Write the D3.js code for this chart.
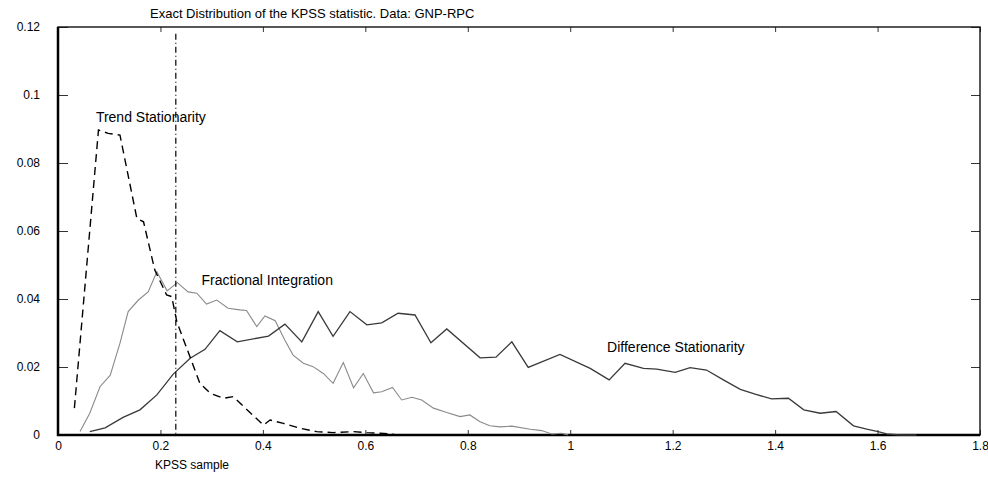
<!DOCTYPE html>
<html>
<head>
<meta charset="utf-8">
<script src="https://cdn.jsdelivr.net/npm/d3@7"></script>
<style>
  body { margin: 0; background: #fff; }
  svg text { font-family: "Liberation Sans", Arial, sans-serif; font-size: 12px; fill: #000; }
  svg text.lbl { font-size: 14px; }
  svg text.title { font-size: 13px; }
</style>
</head>
<body>
<svg id="viz" width="988" height="477"></svg>
<script>
// --- Data ---
const trendX = [0.032, 0.079, 0.098, 0.121, 0.154, 0.167, 0.189, 0.212, 0.222, 0.232, 0.277, 0.297, 0.323, 0.342,
    0.401, 0.414, 0.44, 0.472, 0.505, 0.537, 0.577, 0.603, 0.629, 0.655];
const trendY = [0.0079, 0.0897, 0.0887, 0.0882, 0.0637, 0.0627, 0.0485, 0.0412, 0.0407, 0.0333, 0.0152, 0.0123, 0.0108, 0.0113,
    0.0029, 0.0044, 0.0034, 0.002, 0.001, 0.0007, 0.001, 0.0007, 0.0005, 0.0003];

const fracX = [0.043, 0.062, 0.082, 0.102, 0.121, 0.137, 0.157, 0.176, 0.193, 0.213, 0.233, 0.254, 0.271, 0.29, 0.31,
    0.332, 0.355, 0.368, 0.388, 0.404, 0.424, 0.443, 0.459, 0.479, 0.498, 0.518, 0.537, 0.557, 0.577, 0.596,
    0.616, 0.632, 0.653, 0.671, 0.691, 0.71, 0.733, 0.759, 0.785, 0.804, 0.824, 0.843, 0.863, 0.886, 0.922,
    0.944, 0.964, 0.983, 0.996];
const fracY = [0.001, 0.0064, 0.0142, 0.0176, 0.027, 0.0363, 0.0397, 0.0421, 0.048, 0.0424, 0.0448, 0.0421, 0.0417, 0.0385, 0.0397,
    0.0373, 0.0368, 0.0366, 0.0319, 0.035, 0.0336, 0.0279, 0.0235, 0.0211, 0.0201, 0.0181, 0.0152, 0.0213, 0.0139, 0.0181,
    0.0124, 0.0127, 0.014, 0.0103, 0.0111, 0.0103, 0.0079, 0.0066, 0.0054, 0.0059, 0.0039, 0.0027, 0.0024, 0.0026, 0.0017,
    0.0013, 0.0003, 0.0005, 0];

const diffX = [0.062, 0.092, 0.127, 0.16, 0.193, 0.225, 0.258, 0.287, 0.316, 0.35, 0.411, 0.443, 0.476, 0.508, 0.537,
    0.57, 0.603, 0.632, 0.664, 0.697, 0.728, 0.759, 0.824, 0.855, 0.886, 0.918, 0.98, 1.039, 1.076, 1.107,
    1.143, 1.169, 1.205, 1.234, 1.266, 1.299, 1.332, 1.361, 1.393, 1.426, 1.456, 1.488, 1.519, 1.553, 1.579,
    1.601, 1.618, 1.644, 1.676];
const diffY = [0.001, 0.0021, 0.0052, 0.0074, 0.0118, 0.0179, 0.0226, 0.0252, 0.0307, 0.0274, 0.0291, 0.0326, 0.0274, 0.0363, 0.029,
    0.0363, 0.0324, 0.033, 0.0358, 0.0353, 0.0271, 0.0312, 0.0227, 0.0229, 0.0274, 0.0199, 0.0237, 0.0196, 0.0162, 0.0211,
    0.0196, 0.0194, 0.0184, 0.0198, 0.0191, 0.0162, 0.0134, 0.012, 0.0106, 0.0108, 0.0074, 0.0064, 0.0069, 0.0027, 0.0017,
    0.001, 0.0003, 0, 0];

const kpssSample = 0.23;   // vertical marker
const xTicks = [0, 0.2, 0.4, 0.6, 0.8, 1, 1.2, 1.4, 1.6, 1.8];
const yTicks = [0, 0.02, 0.04, 0.06, 0.08, 0.1, 0.12];

const labels = [
    { text: "Trend Stationarity", x: 0.074, y: 0.0921 },
    { text: "Fractional Integration", x: 0.28, y: 0.0440 },
    { text: "Difference Stationarity", x: 1.072, y: 0.0243 }
];

// --- Layout ---
const margin = { top: 27, right: 8, bottom: 42, left: 58 };
const W = 988, H = 477;
const svg = d3.select("#viz");

const x = d3.scaleLinear().domain([0, 1.8]).range([margin.left, W - margin.right]);
const y = d3.scaleLinear().domain([0, 0.12]).range([H - margin.bottom, margin.top]);
const fmt = d3.format("~g");

// ticks
svg.append("g")
    .attr("transform", `translate(0,${y(0)})`)
    .call(d3.axisBottom(x).tickValues(xTicks).tickFormat(fmt).tickSizeInner(-5).tickSizeOuter(0).tickPadding(6))
    .call(g => g.select(".domain").remove());

svg.append("g")
    .attr("transform", `translate(0,${y(0.12)})`)
    .call(d3.axisTop(x).tickValues(xTicks).tickFormat("").tickSizeInner(-5).tickSizeOuter(0))
    .call(g => g.select(".domain").remove());

svg.append("g")
    .attr("transform", `translate(${x(0)},0)`)
    .call(d3.axisLeft(y).tickValues(yTicks).tickFormat(fmt).tickSizeInner(-10).tickSizeOuter(0).tickPadding(18))
    .call(g => g.select(".domain").remove());

svg.append("g")
    .attr("transform", `translate(${x(1.8)},0)`)
    .call(d3.axisRight(y).tickValues(yTicks).tickFormat("").tickSizeInner(-9).tickSizeOuter(0))
    .call(g => g.select(".domain").remove());

svg.selectAll(".tick line").attr("stroke", "#333");

// frame
svg.append("rect")
    .attr("x", x(0)).attr("y", y(0.12))
    .attr("width", x(1.8) - x(0)).attr("height", y(0) - y(0.12))
    .attr("fill", "none").attr("stroke", "#111").attr("stroke-width", 1.4);
svg.append("path")
    .attr("d", `M${x(0)},${y(0.12)}V${y(0)}H${x(1.8)}`)
    .attr("fill", "none").attr("stroke", "#000").attr("stroke-width", 2.5);

// --- Curves ---
const line = d3.line().x(d => x(d[0])).y(d => y(d[1]));
const zip = (a, b) => a.map((v, i) => [v, b[i]]);

svg.append("path")
    .datum(zip(fracX, fracY))
    .attr("d", line)
    .attr("fill", "none").attr("stroke", "#8a8a8a").attr("stroke-width", 1.1);

svg.append("path")
    .datum(zip(diffX, diffY))
    .attr("d", line)
    .attr("fill", "none").attr("stroke", "#3a3a3a").attr("stroke-width", 1.3);

svg.append("path")
    .datum(zip(trendX, trendY))
    .attr("d", line)
    .attr("fill", "none").attr("stroke", "#000").attr("stroke-width", 1.4)
    .attr("stroke-dasharray", "8,5");

svg.append("line")
    .attr("x1", x(kpssSample)).attr("x2", x(kpssSample))
    .attr("y1", y(0.118)).attr("y2", y(0))
    .attr("stroke", "#000").attr("stroke-width", 1.2)
    .attr("stroke-dasharray", "6,3,1,3");

// --- Text ---
svg.selectAll(".lbl")
    .data(labels)
    .join("text")
    .attr("class", "lbl")
    .attr("x", d => x(d.x))
    .attr("y", d => y(d.y))
    .text(d => d.text);

svg.append("text")
    .attr("class", "title")
    .attr("x", 150).attr("y", 18)
    .text("Exact Distribution of the KPSS statistic. Data: GNP-RPC");

svg.append("text")
    .attr("x", 155).attr("y", 469)
    .text("KPSS sample");
</script>
</body>
</html>
